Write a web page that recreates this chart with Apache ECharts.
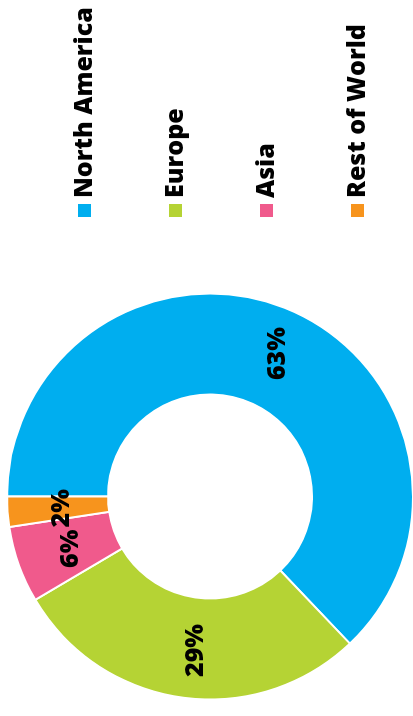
<!DOCTYPE html>
<html>
<head>
<meta charset="utf-8">
<script src="https://cdn.jsdelivr.net/npm/echarts@6/dist/echarts.min.js"></script>
<style>
  html, body { margin: 0; padding: 0; background: #fff; }
  body { width: 413px; height: 716px; position: relative; overflow: hidden; }
  /* chart is drawn upright, then turned so text reads bottom-to-top */
  #chart {
    position: absolute; left: 0; top: 0;
    width: 716px; height: 413px;
    transform-origin: 0 0;
    transform: rotate(-90deg) translateX(-716px);
  }
</style>
</head>
<body>
<div id="chart"></div>
<script>
const regions = ['North America', 'Europe', 'Asia', 'Rest of World']
const shares = [62.9, 28.6, 6.1, 2.4]
const colors = ['#00AEEF', '#B5D334', '#F05A8C', '#F7941D']

const chart = echarts.init(document.getElementById('chart'))

const option = {
    color: colors,
    legend: {
        orient: 'vertical',
        left: 492,
        top: 67,
        icon: 'rect',
        itemWidth: 15,
        itemHeight: 15,
        itemGap: 66,
        data: regions,
        textStyle: {
            fontFamily: 'Open Sans',
            fontWeight: 800,
            fontSize: 25,
            color: '#000',
            lineHeight: 23
        }
    },
    series: [
        {
            type: 'pie',
            center: [219.5, 210],
            radius: [102, 203],
            startAngle: 90,
            clockwise: true,
            avoidLabelOverlap: false,
            itemStyle: {
                borderColor: '#fff',
                borderWidth: 2
            },
            label: {
                show: true,
                position: 'inside',
                formatter: p => Math.round(p.percent) + '%',
                fontFamily: 'Open Sans',
                fontWeight: 800,
                fontSize: 25,
                color: '#000',
                offset: [0, 7]
            },
            labelLine: { show: false },
            emphasis: { disabled: true },
            data: regions.map((name, i) => ({ name: name, value: shares[i] }))
        }
    ]
}

chart.setOption(option)
</script>
</body>
</html>
